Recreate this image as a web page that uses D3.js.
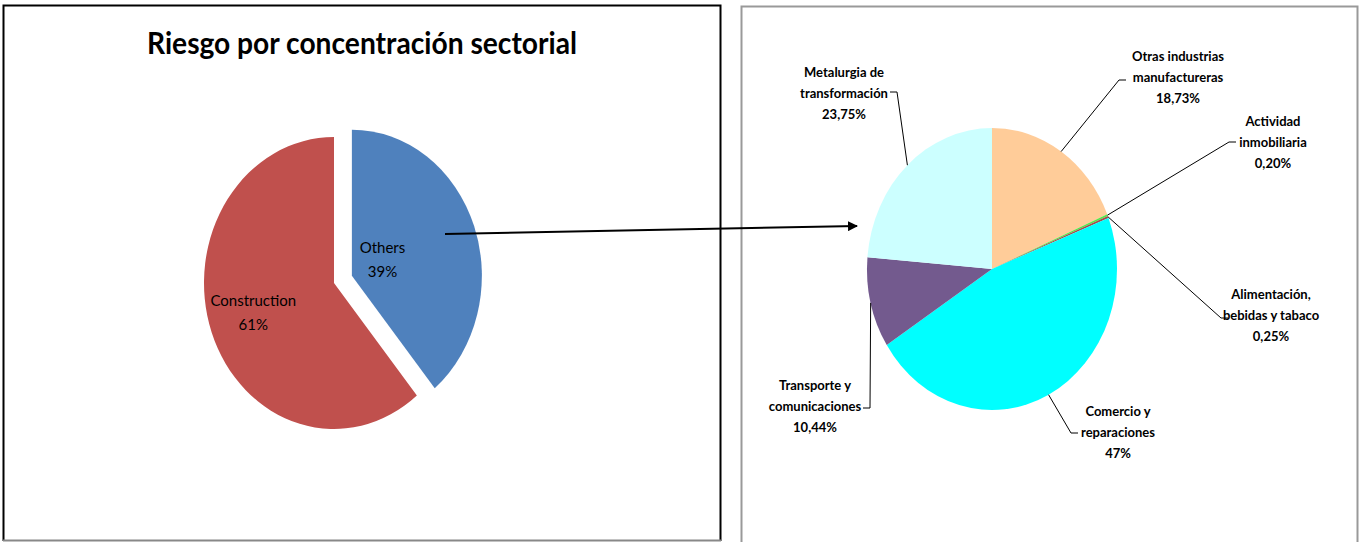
<!DOCTYPE html>
<html>
<head>
<meta charset="utf-8">
<script src="https://cdn.jsdelivr.net/npm/d3@7"></script>
<style>
  body { margin: 0; background: #fff; }
  svg { display: block; }
  text { font-family: Lato, "Open Sans", sans-serif; fill: #000; }
  .title { font-weight: bold; font-size: 30px; }
  .main-label { font-size: 15px; }
  .sub-label { font-size: 13px; font-weight: bold; }
</style>
</head>
<body>
<div id="chart"></div>
<script>
// Left pie: sector concentration
const mainNames = ['Others', 'Construction'];
const mainValues = [39, 61];
const mainLabels = ['39%', '61%'];

// Right pie: breakdown of "Others"
const subNames = [
  ['Otras industrias', 'manufactureras'],
  ['Actividad', 'inmobiliaria'],
  ['Alimentación,', 'bebidas y tabaco'],
  ['Comercio y', 'reparaciones'],
  ['Transporte y', 'comunicaciones'],
  ['Metalurgia de', 'transformación']
];
const subValues = [18.73, 0.20, 0.25, 47, 10.44, 23.75];
const subLabels = ['18,73%', '0,20%', '0,25%', '47%', '10,44%', '23,75%'];

const titleText = 'Riesgo por concentración sectorial';

function draw() {
  const width = 1360, height = 542;
  const svg = d3.select('#chart').append('svg')
    .attr('width', width)
    .attr('height', height);

  // panel frames
  svg.append('path')
    .attr('d', 'M3.5,541 V5.5 H720.5 V541')
    .attr('fill', 'none').attr('stroke', '#000').attr('stroke-width', 2);
  svg.append('line')
    .attr('x1', 3).attr('x2', 721).attr('y1', 540.5).attr('y2', 540.5)
    .attr('stroke', '#888').attr('stroke-width', 2);
  svg.append('path')
    .attr('d', 'M741.5,542 V6.5 H1357.5 V542')
    .attr('fill', 'none').attr('stroke', '#999').attr('stroke-width', 2);

  svg.append('text')
    .attr('class', 'title')
    .attr('x', 362).attr('y', 54)
    .attr('text-anchor', 'middle')
    .attr('textLength', 430)
    .attr('lengthAdjust', 'spacingAndGlyphs')
    .text(titleText);

  // ---- left pie ----
  const mainColor = d3.scaleOrdinal().domain(mainNames).range(['#4F81BD', '#C0504D']);
  const L = { cx: 334, cy: 283, r: 130, sy: 1.123, explode: 19 };
  const mainPie = d3.pie().sort(null).value(d => d.value);
  const mainArcs = mainPie(mainNames.map((n, i) => ({ name: n, value: mainValues[i], label: mainLabels[i] })));
  const mainArc = d3.arc().innerRadius(0).outerRadius(L.r);
  // label radius fraction per slice (Excel manual placement)
  const mainLabelR = [0.25, 0.66];

  const gL = svg.append('g');
  mainArcs.forEach((a, i) => {
    const mid = (a.startAngle + a.endAngle) / 2;
    const off = i === 0 ? L.explode : 0;
    const ox = Math.sin(mid) * off, oy = -Math.cos(mid) * off * L.sy;
    gL.append('path')
      .attr('d', mainArc(a))
      .attr('fill', mainColor(a.data.name))
      .attr('transform', `translate(${L.cx + ox},${L.cy + oy}) scale(1,${L.sy})`);
    const rr = L.r * mainLabelR[i];
    const tx = L.cx + ox + Math.sin(mid) * rr;
    const ty = L.cy + oy - Math.cos(mid) * rr * L.sy;
    const t = gL.append('text').attr('class', 'main-label').attr('text-anchor', 'middle');
    t.append('tspan').attr('x', tx).attr('y', ty - 10).text(a.data.name);
    t.append('tspan').attr('x', tx).attr('y', ty + 14).text(a.data.label);
  });

  // ---- right pie ----
  const subColor = d3.scaleOrdinal().domain(d3.range(subValues.length))
    .range(['#FFCC99', '#55E84A', '#A0504F', '#00FFFF', '#735A8E', '#CCFFFF']);
  const R = { cx: 992, cy: 269, r: 125, sy: 1.128 };
  const subPie = d3.pie().sort(null).value(d => d.value);
  const subArcs = subPie(subValues.map((v, i) => ({ i: i, value: v, name: subNames[i], label: subLabels[i] })));
  const subArc = d3.arc().innerRadius(0).outerRadius(R.r);

  const gR = svg.append('g');
  gR.selectAll('path.slice')
    .data(subArcs)
    .join('path')
    .attr('class', 'slice')
    .attr('d', subArc)
    .attr('fill', d => subColor(d.data.i))
    .attr('transform', `translate(${R.cx},${R.cy}) scale(1,${R.sy})`);

  // label layout: text centre x, first baseline, elbow point, tail direction
  const subLayout = [
    { x: 1178, y: 61, ex: 1119, ey: 80, dx: 7 },
    { x: 1273, y: 126, ex: 1229, ey: 142, dx: 7 },
    { x: 1271, y: 299, ex: 1221, ey: 318, dx: 7 },
    { x: 1118, y: 416, ex: 1071, ey: 433, dx: 7 },
    { x: 815, y: 390, ex: 870, ey: 408, dx: -7 },
    { x: 844, y: 77, ex: 897, ey: 92, dx: -7 }
  ];
  const lineH = 21;

  subArcs.forEach((a, i) => {
    const mid = (a.startAngle + a.endAngle) / 2;
    const px = R.cx + Math.sin(mid) * R.r;
    const py = R.cy - Math.cos(mid) * R.r * R.sy;
    const lay = subLayout[i];
    gR.append('path')
      .attr('d', d3.line()([[px, py], [lay.ex, lay.ey], [lay.ex + lay.dx, lay.ey]]))
      .attr('fill', 'none').attr('stroke', '#000').attr('stroke-width', 1);
    const t = gR.append('text').attr('class', 'sub-label').attr('text-anchor', 'middle');
    a.data.name.concat([a.data.label]).forEach((s, k) => {
      t.append('tspan').attr('x', lay.x).attr('y', lay.y + k * lineH).text(s);
    });
  });

  // ---- connecting arrow ----
  svg.append('defs').append('marker')
    .attr('id', 'arrow')
    .attr('viewBox', '0 0 10 10')
    .attr('refX', 9).attr('refY', 5)
    .attr('markerWidth', 5).attr('markerHeight', 5)
    .attr('orient', 'auto')
    .append('path').attr('d', 'M0,0 L10,5 L0,10 z').attr('fill', '#000');
  svg.append('line')
    .attr('x1', 445).attr('y1', 234)
    .attr('x2', 857).attr('y2', 226)
    .attr('stroke', '#000').attr('stroke-width', 2)
    .attr('marker-end', 'url(#arrow)');
}
draw();
</script>
</body>
</html>
